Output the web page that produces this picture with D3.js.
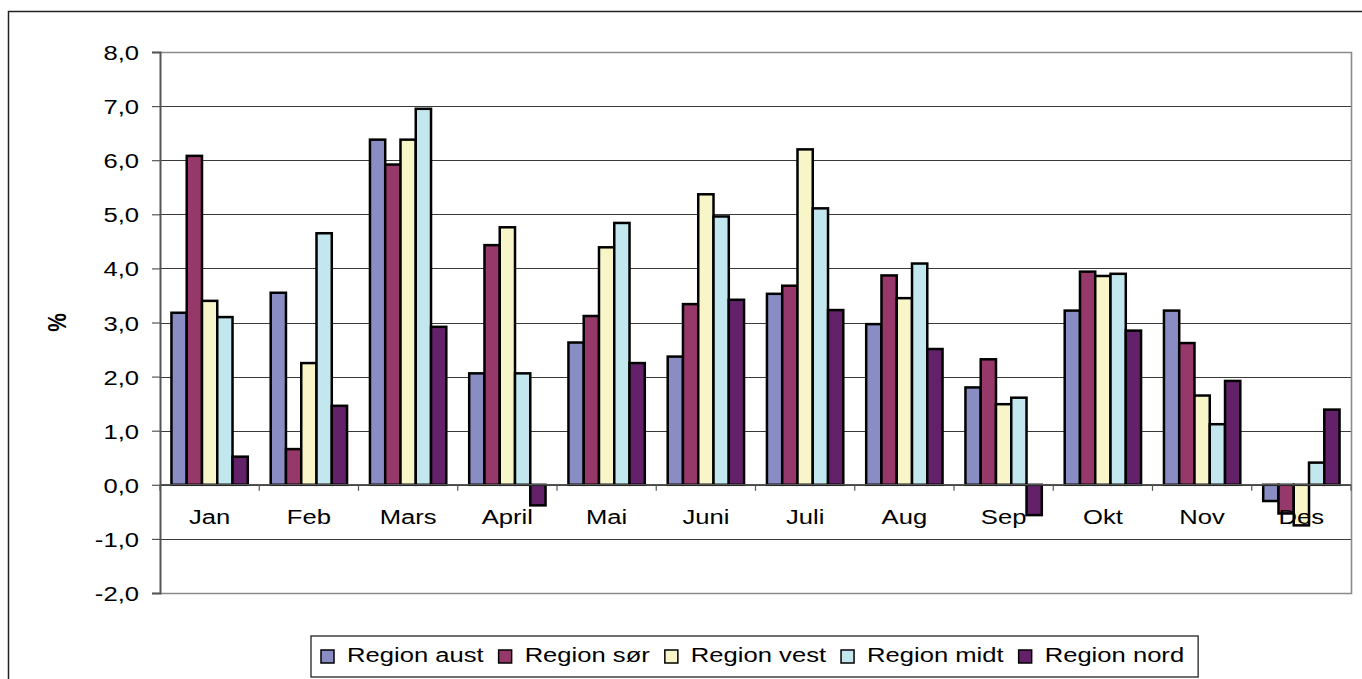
<!DOCTYPE html>
<html>
<head>
<meta charset="utf-8">
<script src="https://cdn.jsdelivr.net/npm/d3@7"></script>
<style>
  html, body { margin: 0; padding: 0; background: #fff; }
  svg { display: block; }
  text { font-family: "Liberation Sans", Arial, sans-serif; fill: #000; }
</style>
</head>
<body>
<svg id="chart" width="1362" height="679"></svg>
<script>
const months = ["Jan","Feb","Mars","April","Mai","Juni","Juli","Aug","Sep","Okt","Nov","Des"];
const seriesNames = ["Region aust","Region sør","Region vest","Region midt","Region nord"];
const regionAust = [3.18, 3.55, 6.38, 2.06, 2.63, 2.37, 3.53, 2.97, 1.80, 3.22, 3.22, -0.30];
const regionSor  = [6.08, 0.66, 5.92, 4.43, 3.12, 3.34, 3.68, 3.87, 2.32, 3.94, 2.62, -0.53];
const regionVest = [3.40, 2.25, 6.38, 4.76, 4.39, 5.37, 6.20, 3.45, 1.49, 3.86, 1.65, -0.75];
const regionMidt = [3.10, 4.65, 6.95, 2.06, 4.84, 4.96, 5.11, 4.09, 1.61, 3.90, 1.12, 0.41];
const regionNord = [0.52, 1.46, 2.92, -0.38, 2.25, 3.42, 3.23, 2.51, -0.56, 2.85, 1.92, 1.39];
const seriesColors = ["#8a8dc4", "#96386a", "#f8f6c8", "#c3e7ee", "#63216a"];
const yTicks = [-2, -1, 0, 1, 2, 3, 4, 5, 6, 7, 8];
const yTitle = "%";

const seriesValues = [regionAust, regionSor, regionVest, regionMidt, regionNord];
const SX = 1.22; // horizontal stretch of the original picture
const FS = 21;

const svg = d3.select("#chart");
const plot = {left: 160, right: 1351, top: 52, bottom: 593};

const y = d3.scaleLinear().domain([-2, 8]).range([plot.bottom, plot.top]);
const x0 = d3.scaleBand().domain(months).range([plot.left, plot.right]).paddingInner(0).paddingOuter(0);
const x1 = d3.scaleBand().domain(seriesNames).range([0, x0.bandwidth()]).paddingInner(0).paddingOuter(0.75);

function stext(g, x, yy, str, anchor, size, weight) {
  return g.append("text")
    .attr("transform", `translate(${x},${yy}) scale(${SX},1)`)
    .attr("text-anchor", anchor)
    .style("font-size", size + "px")
    .style("font-weight", weight || "normal")
    .text(str);
}

// outer chart frame
svg.append("rect").attr("x", 8.5).attr("y", 11.5).attr("width", 1400).attr("height", 700)
  .attr("fill", "none").attr("stroke", "#222").attr("stroke-width", 1.5);

// gridlines
svg.append("g").selectAll("line").data(yTicks.filter(d => d !== -2 && d !== 8)).join("line")
  .attr("x1", plot.left).attr("x2", plot.right)
  .attr("y1", d => Math.round(y(d)) + 0.5).attr("y2", d => Math.round(y(d)) + 0.5)
  .attr("stroke", "#3a3a3a").attr("stroke-width", 1);

// plot frame (top/right/bottom gray)
svg.append("path")
  .attr("d", `M${plot.left},${plot.top + 0.5}H${plot.right + 0.5}V${plot.bottom + 0.5}H${plot.left}`)
  .attr("fill", "none").attr("stroke", "#8a8a8a").attr("stroke-width", 1.6);

// y axis via d3
const yAxis = d3.axisLeft(y).tickValues(yTicks).tickSize(8).tickPadding(12)
  .tickFormat(d => d3.format(".1f")(d).replace(".", ",").replace("−", "-"));
const gy = svg.append("g").attr("transform", `translate(${plot.left},0)`).call(yAxis);
gy.select(".domain").attr("stroke", "#555").attr("stroke-width", 2);
gy.selectAll(".tick line").attr("stroke", "#555").attr("stroke-width", 1.2);
gy.selectAll(".tick text").remove();
gy.selectAll(".tick").each(function(d) {
  stext(d3.select(this), -21, 7.5, d3.format(".1f")(d).replace(".", ",").replace("−", "-"), "end", FS);
});

// bars
const groups = svg.append("g").selectAll("g").data(months).join("g")
  .attr("transform", d => `translate(${x0(d)},0)`);
groups.selectAll("rect").data((m, i) => seriesNames.map((s, j) => ({s, j, v: seriesValues[j][i]}))).join("rect")
  .attr("x", d => x1(d.s))
  .attr("width", x1.bandwidth())
  .attr("y", d => y(Math.max(0, d.v)))
  .attr("height", d => Math.abs(y(d.v) - y(0)))
  .attr("fill", d => seriesColors[d.j])
  .attr("stroke", "#000").attr("stroke-width", 2.5);

// zero axis line with category ticks
const gx = svg.append("g").attr("transform", `translate(0,${y(0)})`);
gx.append("line").attr("x1", plot.left).attr("x2", plot.right).attr("stroke", "#555").attr("stroke-width", 1.5);
gx.selectAll("line.tk").data(months.concat(["end"])).join("line").attr("class", "tk")
  .attr("x1", (d, i) => plot.left + i * x0.step()).attr("x2", (d, i) => plot.left + i * x0.step())
  .attr("y1", 0).attr("y2", 6).attr("stroke", "#555").attr("stroke-width", 1.2);
months.forEach(m => stext(gx, x0(m) + x0.bandwidth() / 2, 39, m, "middle", FS));

// y title
svg.append("text")
  .attr("transform", `translate(66,${(plot.top + plot.bottom) / 2}) scale(${SX},1) rotate(-90)`)
  .attr("text-anchor", "middle")
  .style("font-size", "21px").style("font-weight", "bold")
  .text(yTitle);

// legend
const lg = svg.append("g");
const lgBox = lg.append("rect").attr("fill", "#fff").attr("stroke", "#222").attr("stroke-width", 1.3);
let cx = 321;
const ly = 650;
seriesNames.forEach((s, j) => {
  lg.append("rect").attr("x", cx).attr("y", ly).attr("width", 13).attr("height", 13)
    .attr("fill", seriesColors[j]).attr("stroke", "#000").attr("stroke-width", 1.5);
  const t = stext(lg, cx + 26, 662, s, "start", FS);
  const w = t.node().getComputedTextLength() * SX;
  cx = cx + 26 + w + 15;
});
lgBox.attr("x", 311).attr("y", 636).attr("width", cx - 15 + 14 - 311).attr("height", 41);
</script>
</body>
</html>
